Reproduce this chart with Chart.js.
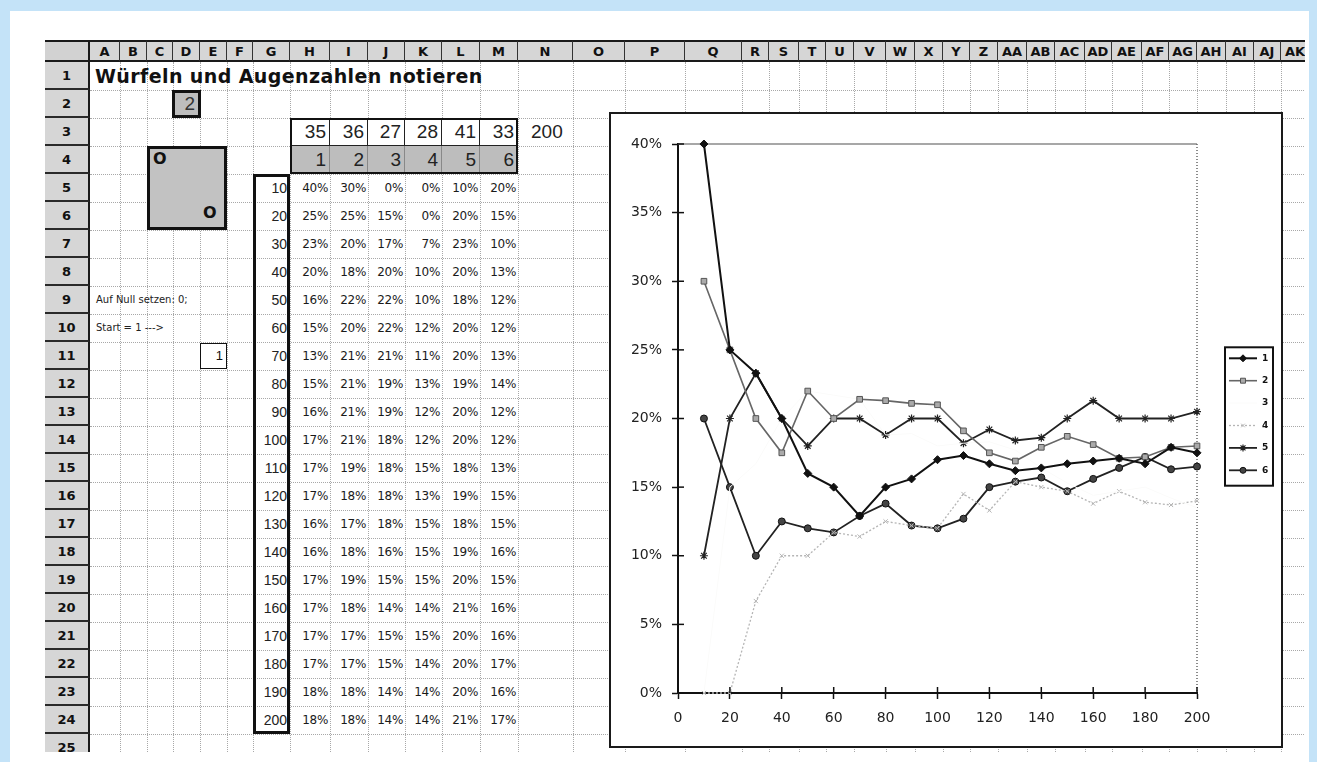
<!DOCTYPE html>
<html lang="de">
<head>
<meta charset="utf-8">
<title>Würfeln und Augenzahlen notieren</title>
<script src="https://cdn.jsdelivr.net/npm/chart.js@4.4.1/dist/chart.umd.min.js"></script>
<style>
    html, body { margin: 0; padding: 0; }
    body { width: 1317px; height: 762px; position: relative; overflow: hidden; background: #fff;
           font-family: "Liberation Sans", Arial, sans-serif; color: #111; }
    .rand { position: absolute; background: #c4e3f8; }
    #sheet { position: absolute; left: 0; top: 0; width: 1305px; height: 752px; overflow: hidden; }
    .c { position: absolute; box-sizing: border-box; white-space: nowrap; overflow: visible; }
    #chartBox { position: absolute; left: 609px; top: 112px; width: 674px; height: 636px;
                border: 2px solid #1a1a1a; box-sizing: border-box; background: #fff; }
    #chartWrap { position: absolute; left: 0; top: 0; width: 670px; height: 632px; }
</style>
</head>
<body>
<div class="rand" style="left:0;top:0;width:1317px;height:11px"></div>
<div class="rand" style="left:0;top:0;width:10px;height:762px"></div>
<div class="rand" style="left:1309px;top:0;width:8px;height:762px"></div>
<div id="sheet"></div>
<div id="chartBox"><div id="chartWrap"><canvas id="wuerfelChart"></canvas></div></div>

<script>
// ===== Daten =====
const wuerfe = [10, 20, 30, 40, 50, 60, 70, 80, 90, 100, 110, 120, 130, 140, 150, 160, 170, 180, 190, 200];
const augen = ['1', '2', '3', '4', '5', '6'];
const anzahlen = [35, 36, 27, 28, 41, 33];
const gesamt = 200;

// relative Häufigkeit in %
const anteil1 = [40, 25, 23.3, 20, 16, 15, 12.9, 15, 15.6, 17, 17.3, 16.7, 16.2, 16.4, 16.7, 16.9, 17.1, 16.7, 17.9, 17.5];
const anteil2 = [30, 25, 20, 17.5, 22, 20, 21.4, 21.3, 21.1, 21, 19.1, 17.5, 16.9, 17.9, 18.7, 18.1, 17.1, 17.2, 17.9, 18];
const anteil3 = [0, 15, 16.7, 20, 22, 21.7, 21.4, 18.8, 18.9, 18, 18.2, 18.3, 17.7, 16.4, 15.3, 14.4, 14.7, 15, 14.2, 13.5];
const anteil4 = [0, 0, 6.7, 10, 10, 11.7, 11.4, 12.5, 12.2, 12, 14.5, 13.3, 15.4, 15, 14.7, 13.8, 14.7, 13.9, 13.7, 14];
const anteil5 = [10, 20, 23.3, 20, 18, 20, 20, 18.8, 20, 20, 18.2, 19.2, 18.4, 18.6, 20, 21.3, 20, 20, 20, 20.5];
const anteil6 = [20, 15, 10, 12.5, 12, 11.7, 12.9, 13.8, 12.2, 12, 12.7, 15, 15.4, 15.7, 14.7, 15.6, 16.4, 17.2, 16.3, 16.5];
const anteile = [anteil1, anteil2, anteil3, anteil4, anteil5, anteil6];

const spalten = ['A','B','C','D','E','F','G','H','I','J','K','L','M','N','O','P','Q','R','S','T','U','V','W','X','Y','Z',
                 'AA','AB','AC','AD','AE','AF','AG','AH','AI','AJ','AK'];

// ===== Tabelle (Layout) =====
const colEdges = [90,120,147,173,200,227,253,290,330,368,405,442,480,518,573,625,685,742,769,799,826,854,886,915,943,970,
                  998,1027,1055,1085,1112,1142,1169,1197,1226,1254,1281,1310];
const ROW_Y0 = 62, ROW_H = 28, ROWS = 25;
const sheet = document.getElementById('sheet');

function box(left, top, width, height, css, text) {
    const d = document.createElement('div');
    d.className = 'c';
    d.style.cssText = `left:${left}px;top:${top}px;width:${width}px;height:${height}px;` + (css || '');
    if (text !== undefined) d.textContent = text;
    sheet.appendChild(d);
    return d;
}

function cellRect(c1, r1, c2 = c1, r2 = r1) {
    const i1 = spalten.indexOf(c1), i2 = spalten.indexOf(c2);
    return [colEdges[i1], ROW_Y0 + (r1 - 1) * ROW_H, colEdges[i2 + 1] - colEdges[i1], (r2 - r1 + 1) * ROW_H];
}

function zelle(c, r, text, css) {
    const [l, t, w, h] = cellRect(c, r);
    return box(l, t, w, h, (css || '') + `;line-height:${h}px`, text);
}

function buildSheet() {
    // Gitternetz
    for (let i = 1; i < colEdges.length; i++) {
        box(colEdges[i], ROW_Y0, 1, 700, 'border-left:1px dotted #a8a8a8');
    }
    for (let r = 1; r <= ROWS; r++) {
        box(90, ROW_Y0 + r * ROW_H, 1220, 1, 'border-top:1px dotted #a8a8a8');
    }

    // Spaltenköpfe
    box(45, 40, 45, 22, 'background:#d2d2d2;border-top:2px solid #1a1a1a;border-bottom:2px solid #1a1a1a;border-right:2px solid #1a1a1a');
    spalten.forEach((name, i) => {
        box(colEdges[i], 40, colEdges[i + 1] - colEdges[i], 22,
            'background:#d6d6d6;border-top:2px solid #1a1a1a;border-bottom:2px solid #1a1a1a;border-right:1.5px solid #333;' +
            'text-align:center;font:bold 13px "DejaVu Sans";line-height:19px;overflow:hidden', name);
    });

    // Zeilenköpfe
    for (let r = 1; r <= ROWS; r++) {
        box(45, ROW_Y0 + (r - 1) * ROW_H, 45, ROW_H,
            'background:#d6d6d6;border-bottom:2px solid #2a2a2a;border-right:2px solid #1a1a1a;' +
            `text-align:center;font:bold 13px "DejaVu Sans";line-height:${ROW_H}px`, String(r));
    }

    // Titel
    box(95, 62, 440, 28, 'font:bold 19px "DejaVu Sans";letter-spacing:0.4px;line-height:28px', 'Würfeln und Augenzahlen notieren');

    // D2
    const [dl, dt, dw, dh] = cellRect('D', 2);
    box(dl - 1, dt, dw + 2, dh, `background:#bdbdbd;border:3px solid #111;text-align:right;padding-right:3px;` +
        `font-size:19px;color:#333;line-height:${dh - 6}px`, '2');

    // Kasten C4:E6
    const [kl, kt, kw, kh] = cellRect('C', 4, 'E', 6);
    box(kl, kt, kw, kh, 'background:#c2c2c2;border:3px solid #111');
    box(kl + 6, kt + 2, 20, 22, 'font:bold 16px "DejaVu Sans";line-height:22px', 'O');
    box(kl + kw - 24, kt + kh - 28, 20, 22, 'font:bold 16px "DejaVu Sans";line-height:22px', 'O');

    // Anzahlen und Augenzahlen
    augen.forEach((a, i) => {
        const col = spalten[7 + i];
        zelle(col, 3, String(anzahlen[i]), 'background:#fff;border-right:1.5px solid #222;border-bottom:1.5px solid #222;' +
              'text-align:right;padding-right:3px;font-size:19px;color:#222');
        zelle(col, 4, a, 'background:#bdbdbd;border-right:1px solid #888;text-align:right;padding-right:3px;font-size:19px;color:#222');
    });
    const [al, at, aw, ah] = cellRect('H', 3, 'M', 4);
    box(al, at, aw, ah, 'border:2.5px solid #111');
    zelle('N', 3, String(gesamt), 'text-align:left;padding-left:13px;font-size:19px;color:#222');

    // Texte links
    zelle('A', 9, 'Auf Null setzen: 0;', 'padding-left:6px;font:10px "DejaVu Sans";color:#222');
    zelle('A', 10, 'Start = 1 --->', 'padding-left:6px;font:10px "DejaVu Sans";color:#222');
    const [el, et, ew, eh] = cellRect('E', 11);
    box(el, et + 1, ew, eh - 2, `background:#fff;border:1px solid #111;text-align:right;padding-right:3px;font-size:13px;line-height:${eh - 4}px`, '1');

    // Wurfzahlen und Prozentwerte
    wuerfe.forEach((n, i) => {
        const row = 5 + i;
        zelle('G', row, String(n), 'text-align:right;padding-right:3px;font-size:14px;color:#222');
        anteile.forEach((serie, k) => {
            zelle(spalten[7 + k], row, Math.round(serie[i]) + '%',
                  'text-align:right;padding-right:2px;font:12px "DejaVu Sans";letter-spacing:-0.3px;color:#1a1a1a');
        });
    });
    const [gl, gt, gw, gh] = cellRect('G', 5, 'G', 24);
    box(gl, gt, gw, gh, 'border:3px solid #111');
}

buildSheet();

// ===== Diagramm =====
const serienStil = [
    { borderColor: '#111', borderWidth: 2, pointStyle: 'rectRot', pointRadius: 4, pointBackgroundColor: '#111', pointBorderColor: '#111', pointBorderWidth: 1 },
    { borderColor: '#666', borderWidth: 1.6, pointStyle: 'rect', pointRadius: 4, pointBackgroundColor: '#aaa', pointBorderColor: '#555', pointBorderWidth: 1 },
    { borderColor: '#fbfbfa', borderWidth: 1, pointStyle: 'triangle', pointRadius: 0, pointBackgroundColor: '#fbfbfa', pointBorderColor: '#fbfbfa', pointBorderWidth: 1 },
    { borderColor: '#b5b5b5', borderWidth: 1.3, borderDash: [2, 2], pointStyle: 'crossRot', pointRadius: 3, pointBackgroundColor: '#b5b5b5', pointBorderColor: '#b5b5b5', pointBorderWidth: 1 },
    { borderColor: '#222', borderWidth: 1.8, pointStyle: 'star', pointRadius: 4, pointBackgroundColor: '#222', pointBorderColor: '#222', pointBorderWidth: 1.2 },
    { borderColor: '#222', borderWidth: 1.8, pointStyle: 'circle', pointRadius: 3.5, pointBackgroundColor: '#444', pointBorderColor: '#111', pointBorderWidth: 1 }
];

// Rahmen der Zeichnungsfläche: oben grau, rechts gepunktet
const plotFrame = {
    id: 'plotFrame',
    beforeDatasetsDraw(chart) {
        const { ctx, chartArea: a } = chart;
        ctx.save();
        ctx.strokeStyle = '#8a8a8a';
        ctx.lineWidth = 1.5;
        ctx.beginPath(); ctx.moveTo(a.left, a.top); ctx.lineTo(a.right, a.top); ctx.stroke();
        ctx.setLineDash([1, 2]);
        ctx.strokeStyle = '#666';
        ctx.beginPath(); ctx.moveTo(a.right, a.top); ctx.lineTo(a.right, a.bottom); ctx.stroke();
        ctx.restore();
    }
};

// Teilstriche auch nach innen
const innerTicks = {
    id: 'innerTicks',
    afterDraw(chart) {
        const { ctx, chartArea: a, scales } = chart;
        ctx.save();
        ctx.strokeStyle = '#111';
        ctx.lineWidth = 1.5;
        scales.y.ticks.forEach(t => {
            const y = scales.y.getPixelForValue(t.value);
            ctx.beginPath(); ctx.moveTo(a.left, y); ctx.lineTo(a.left + 6, y); ctx.stroke();
        });
        scales.x.ticks.forEach(t => {
            const x = scales.x.getPixelForValue(t.value);
            ctx.beginPath(); ctx.moveTo(x, a.bottom); ctx.lineTo(x, a.bottom - 6); ctx.stroke();
        });
        ctx.restore();
    }
};

// Legende im Kasten rechts
const boxLegend = {
    id: 'boxLegend',
    afterDraw(chart) {
        const { ctx, chartArea: a } = chart;
        const sets = chart.data.datasets;
        const rowH = 22.4, w = 48, h = sets.length * rowH + 4;
        const x0 = a.right + 28;
        const y0 = (a.top + a.bottom) / 2 - h / 2 - 2;
        ctx.save();
        ctx.fillStyle = '#fff';
        ctx.fillRect(x0, y0, w, h);
        ctx.strokeStyle = '#111';
        ctx.lineWidth = 2;
        ctx.strokeRect(x0, y0, w, h);
        sets.forEach((ds, i) => {
            const y = y0 + 11 + i * rowH;
            ctx.strokeStyle = ds.borderColor;
            ctx.lineWidth = ds.borderWidth;
            ctx.setLineDash(ds.borderDash || []);
            ctx.beginPath(); ctx.moveTo(x0 + 4, y); ctx.lineTo(x0 + 32, y); ctx.stroke();
            ctx.setLineDash([]);
            if (ds.pointRadius > 0 && Chart.helpers && Chart.helpers.drawPoint) {
                ctx.fillStyle = ds.pointBackgroundColor;
                ctx.strokeStyle = ds.pointBorderColor;
                ctx.lineWidth = ds.pointBorderWidth;
                Chart.helpers.drawPoint(ctx, { pointStyle: ds.pointStyle, radius: ds.pointRadius - 0.5, rotation: 0, borderWidth: ds.pointBorderWidth }, x0 + 18, y);
            }
            ctx.fillStyle = '#111';
            ctx.font = 'bold 9px "DejaVu Sans"';
            ctx.textBaseline = 'middle';
            ctx.fillText(ds.label, x0 + 37, y);
        });
        ctx.restore();
    }
};

const tickFont = { family: '"DejaVu Sans", sans-serif', size: 14 };

new Chart(document.getElementById('wuerfelChart'), {
    type: 'line',
    data: {
        datasets: augen.map((name, k) => Object.assign({
            label: name,
            data: wuerfe.map((x, i) => ({ x: x, y: anteile[k][i] })),
            tension: 0,
            clip: false
        }, serienStil[k]))
    },
    options: {
        responsive: true,
        maintainAspectRatio: false,
        animation: false,
        layout: { padding: { top: 30, right: 84, left: 0, bottom: 0 } },
        plugins: { legend: { display: false }, tooltip: { enabled: false } },
        scales: {
            x: {
                type: 'linear', min: 0, max: 200,
                ticks: { stepSize: 20, color: '#222', font: tickFont, padding: 11, maxRotation: 0 },
                grid: { drawOnChartArea: false, tickLength: 6, tickColor: '#111', tickWidth: 1.5 },
                border: { color: '#111', width: 2 },
                afterFit: s => { s.height = 53; }
            },
            y: {
                min: 0, max: 40,
                ticks: { stepSize: 5, color: '#222', font: tickFont, padding: 10, callback: v => v + '%' },
                grid: { drawOnChartArea: false, tickLength: 6, tickColor: '#111', tickWidth: 1.5 },
                border: { color: '#111', width: 2 },
                afterFit: s => { s.width = 67; }
            }
        }
    },
    plugins: [plotFrame, innerTicks, boxLegend]
});
</script>
</body>
</html>
